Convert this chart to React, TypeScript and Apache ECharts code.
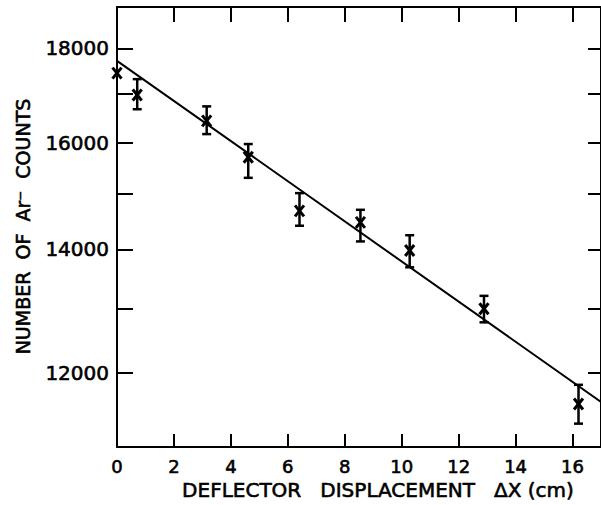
import React, { useEffect, useRef } from "react";
import * as echarts from "echarts";

// Measured data (deflector displacement in cm, counts)
const xValues = [0, 0.71, 3.15, 4.61, 6.41, 8.55, 10.28, 12.89, 16.21];
const counts = [17450, 16980, 16440, 15710, 14690, 14480, 13980, 13000, 11540];
const errLow: (number | null)[] = [null, 16680, 16170, 15310, 14420, 14140, 13690, 12780, 11260];
const errHigh: (number | null)[] = [null, 17320, 16740, 15970, 15020, 14710, 14250, 13210, 11820];

// Fitted line endpoints
const fitX = [0, 17];
const fitY = [17720, 11570];

// Axis ticks and labels
const xTickLabels = [0, 2, 4, 6, 8, 10, 12, 14, 16];
const xTickMarks = [2, 4, 6, 8, 10, 12, 14, 16];
const yTickLabels = [12000, 14000, 16000, 18000];
const yTickMarks = [12000, 13000, 14000, 15000, 16000, 17000, 18000];

const X_MIN = 0;
const X_MAX = 17;
const Y_MIN = 10936;
const Y_MAX = 18954;

const FONT = "DejaVu Sans";

export default function App() {
  const ref = useRef<HTMLDivElement>(null);

  useEffect(() => {
    if (!ref.current) return;
    const chart = echarts.init(ref.current, null, { renderer: "svg" });

    const axisLine = { show: true, onZero: false, lineStyle: { color: "#000", width: 2 } };
    const heavy = { textBorderColor: "#000", textBorderWidth: 0.6 };

    const errData = xValues.map((x, i) => [
      x,
      counts[i],
      errLow[i] ?? counts[i],
      errHigh[i] ?? counts[i],
    ]);

    const option: any = {
      animation: false,
      backgroundColor: "#fff",
      grid: { left: 117, top: 7, width: 488, height: 440, containLabel: false },
      xAxis: [
        {
          type: "value",
          position: "bottom",
          min: X_MIN,
          max: X_MAX,
          axisLine,
          splitLine: { show: false },
          axisTick: {
            show: true,
            inside: true,
            length: 13,
            customValues: xTickMarks,
            lineStyle: { color: "#000", width: 2 },
          },
          axisLabel: {
            show: true,
            customValues: xTickLabels,
            formatter: (v: number) => String(v),
            margin: 10,
            color: "#000",
            fontSize: 18,
            lineHeight: 18,
            fontFamily: FONT,
            ...heavy,
          },
        },
        {
          type: "value",
          position: "top",
          min: X_MIN,
          max: X_MAX,
          axisLine,
          splitLine: { show: false },
          axisTick: {
            show: true,
            inside: true,
            length: 15,
            customValues: xTickMarks,
            lineStyle: { color: "#000", width: 2 },
          },
          axisLabel: { show: false },
        },
      ],
      yAxis: [
        {
          type: "log",
          position: "left",
          min: Y_MIN,
          max: Y_MAX,
          axisLine,
          splitLine: { show: false },
          axisTick: {
            show: true,
            inside: true,
            length: 16,
            customValues: yTickMarks,
            lineStyle: { color: "#000", width: 2 },
          },
          axisLabel: {
            show: true,
            customValues: yTickLabels,
            formatter: (v: number) => String(Math.round(v)),
            margin: 8,
            color: "#000",
            fontSize: 20,
            fontFamily: FONT,
            ...heavy,
          },
        },
        {
          type: "log",
          position: "right",
          min: Y_MIN,
          max: Y_MAX,
          axisLine,
          splitLine: { show: false },
          axisTick: {
            show: true,
            inside: true,
            length: 13,
            customValues: yTickMarks,
            lineStyle: { color: "#000", width: 2 },
          },
          axisLabel: { show: false },
        },
      ],
      series: [
        {
          type: "line",
          xAxisIndex: 0,
          yAxisIndex: 0,
          data: fitX.map((x, i) => [x, fitY[i]]),
          symbol: "none",
          lineStyle: { color: "#000", width: 2 },
          silent: true,
        },
        {
          type: "custom",
          xAxisIndex: 0,
          yAxisIndex: 0,
          data: errData,
          encode: { x: 0, y: [1, 2, 3] },
          renderItem: (params: any, api: any) => {
            const x = api.value(0);
            const y = api.value(1);
            const lo = api.value(2);
            const hi = api.value(3);
            const c = api.coord([x, y]);
            const st = { stroke: "#000", lineWidth: 2.5 };
            const children: any[] = [];
            if (Math.abs(hi - lo) > 1) {
              const pl = api.coord([x, lo]);
              const ph = api.coord([x, hi]);
              const cw = 4.5;
              children.push({
                type: "line",
                shape: { x1: pl[0], y1: pl[1], x2: ph[0], y2: ph[1] },
                style: st,
              });
              children.push({
                type: "line",
                shape: { x1: pl[0] - cw, y1: pl[1], x2: pl[0] + cw, y2: pl[1] },
                style: st,
              });
              children.push({
                type: "line",
                shape: { x1: ph[0] - cw, y1: ph[1], x2: ph[0] + cw, y2: ph[1] },
                style: st,
              });
            }
            const mw = 4.5;
            const mh = 5.5;
            const mst = { stroke: "#000", lineWidth: 3 };
            children.push({
              type: "line",
              shape: { x1: c[0] - mw, y1: c[1] - mh, x2: c[0] + mw, y2: c[1] + mh },
              style: mst,
            });
            children.push({
              type: "line",
              shape: { x1: c[0] + mw, y1: c[1] - mh, x2: c[0] - mw, y2: c[1] + mh },
              style: mst,
            });
            return { type: "group", children };
          },
        },
      ],
      graphic: [
        {
          type: "text",
          x: 378,
          y: 490,
          style: {
            text: "DEFLECTOR\u00a0\u00a0\u00a0DISPLACEMENT\u00a0\u00a0\u00a0ΔX (cm)",
            fontSize: 20,
            lineHeight: 18,
            fontFamily: FONT,
            fill: "#000",
            stroke: "#000",
            lineWidth: 0.6,
            align: "center",
            verticalAlign: "middle",
          },
        },
        {
          type: "text",
          x: 22.5,
          y: 226.5,
          rotation: Math.PI / 2,
          style: {
            text: "NUMBER\u00a0\u00a0OF\u00a0\u00a0Ar⁻\u00a0\u00a0COUNTS",
            fontSize: 19,
            fontFamily: FONT,
            fill: "#000",
            stroke: "#000",
            lineWidth: 0.6,
            align: "center",
            verticalAlign: "middle",
          },
        },
      ],
    };

    chart.setOption(option);
    return () => chart.dispose();
  }, []);

  return (
    <div
      ref={ref}
      style={{ position: "fixed", left: 0, top: 0, width: 601, height: 505, background: "#fff" }}
    />
  );
}
